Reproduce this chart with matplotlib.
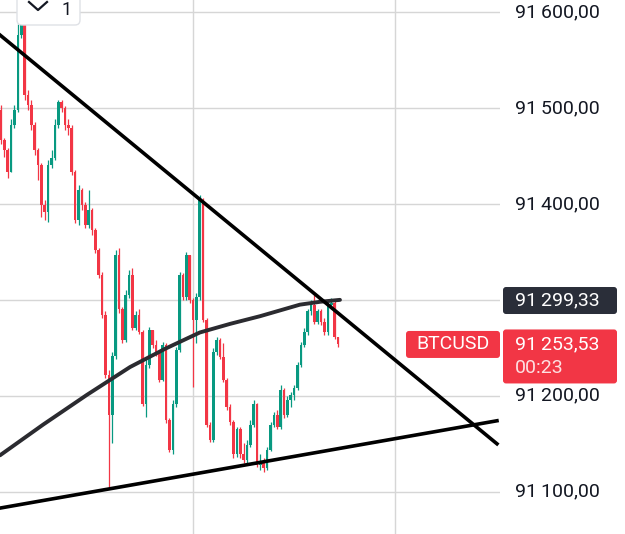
import numpy as np
import matplotlib
matplotlib.use('Agg')
import matplotlib.pyplot as plt
from matplotlib.patches import FancyBboxPatch

plt.rcParams['font.family'] = ['Roboto', 'DejaVu Sans']

# BTCUSD candles (open = previous close)
first_open = 91498
close = [91467, 91456, 91433, 91482, 91498, 91576, 91592, 91514, 91503, 91482,
         91456, 91441, 91399, 91392, 91441, 91448, 91482, 91506, 91500, 91482,
         91479, 91433, 91383, 91415, 91399, 91378, 91394, 91373, 91352, 91326,
         91284, 91222, 91180, 91241, 91347, 91290, 91258, 91305, 91326, 91271,
         91284, 91267, 91191, 91232, 91269, 91253, 91245, 91217, 91253, 91175,
         91144, 91191, 91248, 91326, 91303, 91347, 91300, 91279, 91303, 91404,
         91279, 91170, 91154, 91246, 91258, 91240, 91217, 91188, 91173, 91139,
         91165, 91139, 91133, 91149, 91170, 91191, 91128, 91131, 91125, 91144,
         91170, 91180, 91167, 91206, 91180, 91196, 91201, 91208, 91232, 91253,
         91267, 91288, 91295, 91277, 91288, 91277, 91266, 91295, 91297, 91261,
         91253.53]
high = [91503, 91469, 91458, 91488, 91503, 91587, 91618, 91597, 91519, 91508,
        91485, 91458, 91443, 91404, 91446, 91456, 91488, 91508, 91508, 91502,
        91488, 91482, 91435, 91420, 91417, 91402, 91415, 91396, 91375, 91354,
        91329, 91288, 91227, 91246, 91352, 91354, 91293, 91310, 91331, 91333,
        91288, 91290, 91269, 91238, 91272, 91269, 91258, 91248, 91256, 91255,
        91177, 91196, 91251, 91329, 91328, 91350, 91347, 91302, 91307, 91409,
        91406, 91281, 91173, 91250, 91261, 91260, 91255, 91219, 91191, 91175,
        91168, 91167, 91151, 91154, 91175, 91196, 91193, 91139, 91135, 91147,
        91173, 91183, 91185, 91211, 91208, 91200, 91204, 91211, 91235, 91256,
        91271, 91290, 91300, 91305, 91290, 91290, 91281, 91298, 91302, 91300,
        91261]
low = [91462, 91449, 91427, 91433, 91479, 91496, 91573, 91508, 91498, 91477,
       91451, 91425, 91386, 91383, 91381, 91437, 91446, 91479, 91496, 91477,
       91472, 91430, 91380, 91378, 91394, 91375, 91375, 91368, 91349, 91323,
       91281, 91219, 91104, 91151, 91238, 91286, 91255, 91256, 91302, 91269,
       91269, 91264, 91189, 91178, 91229, 91250, 91242, 91214, 91215, 91172,
       91141, 91139, 91188, 91246, 91300, 91300, 91297, 91209, 91255, 91300,
       91277, 91167, 91152, 91152, 91243, 91238, 91214, 91185, 91170, 91135,
       91136, 91135, 91130, 91130, 91147, 91167, 91126, 91123, 91121, 91123,
       91142, 91167, 91165, 91165, 91177, 91178, 91188, 91196, 91206, 91230,
       91251, 91263, 91284, 91275, 91275, 91274, 91263, 91263, 91292, 91259,
       91251]

last_price = 91253.53
mark_price = 91299.33
timer = '00:23'
symbol = 'BTCUSD'
price_ticks = [91600, 91500, 91400, 91300, 91200, 91100]
grid_idx = [57, 117]

# drawings on the chart (candle index, price)
upper_x = [-0.3, 147.2]
upper_y = [91576, 91150]
lower_x = [-0.3, 147.2]
lower_y = [91083, 91174]
arc_x = [-0.3, 12.5, 25.5, 38.3, 48.7, 59.0, 68.0, 76.9, 88.7, 94.7, 100.6]
arc_y = [91138, 91170, 91201, 91230, 91249, 91266, 91275, 91283, 91295, 91298, 91300]

GREEN = '#089981'
RED = '#f23645'
TXT = '#131722'


def fmt(v):
    s = '{:,.2f}'.format(v)
    return s.replace(',', '\u2009').replace('.', ',')


c = np.array(close, dtype=float)
o = np.concatenate(([first_open], c[:-1]))
h = np.array(high, dtype=float)
l = np.array(low, dtype=float)
idx = np.arange(len(c))
up = c >= o
cols = np.where(up, GREEN, RED)

fig = plt.figure(figsize=(6.25, 5.34), dpi=100)
ax = fig.add_axes([0, 0, 500 / 625, 1])
ax.set_xlim(-0.3, 148.1)
ax.set_ylim(91056, 91612.5)
ax.axis('off')

for p in price_ticks:
    ax.axhline(p, color='#d6d6d6', lw=1, zorder=0)
for g in grid_idx:
    ax.axvline(g, color='#d6d6d6', lw=1, zorder=0)

ax.vlines(idx, l, h, colors=cols, lw=0.9, zorder=2)
body = np.maximum(np.abs(c - o), 1.0)
ax.bar(idx, body, bottom=np.minimum(o, c), width=0.78, color=cols, zorder=3)

ax.plot(arc_x, arc_y, color='#2b2b30', lw=2.8, solid_capstyle='round',
        solid_joinstyle='round', zorder=4)
ax.plot(upper_x, upper_y, color='black', lw=2.6, zorder=4)
ax.plot(lower_x, lower_y, color='black', lw=2.6, zorder=4)

# overlay in pixel units for the price scale labels
ov = fig.add_axes([0, 0, 1, 1], zorder=5)
ov.set_xlim(0, 625)
ov.set_ylim(0, 534)
ov.axis('off')
ov.patch.set_alpha(0)


def py(price):
    return ax.transData.transform((0, price))[1]


for p in price_ticks:
    ov.text(515, py(p), fmt(p), ha='left', va='center', fontsize=14, color=TXT)

ym = py(mark_price)
ov.add_patch(FancyBboxPatch((503, ym - 13.5), 114, 27,
                            boxstyle='round,pad=0,rounding_size=3',
                            fc='#2a2e39', ec='none', zorder=6))
ov.text(515, ym, fmt(mark_price), ha='left', va='center', fontsize=14,
        color='white', zorder=7)

yl = py(last_price)
ov.add_patch(FancyBboxPatch((503, yl - 39), 114, 54,
                            boxstyle='round,pad=0,rounding_size=3',
                            fc=RED, ec='none', zorder=6))
ov.text(515, yl, fmt(last_price), ha='left', va='center', fontsize=14,
        color='white', zorder=7)
ov.text(515, yl - 24, timer, ha='left', va='center', fontsize=14,
        color='#fde0e2', zorder=7)
ov.add_patch(FancyBboxPatch((406, yl - 13.5), 94, 27,
                            boxstyle='round,pad=0,rounding_size=3',
                            fc=RED, ec='none', zorder=6))
ov.text(453, yl, symbol, ha='center', va='center', fontsize=14,
        color='white', zorder=7)

# collapsed indicator button at the top left
ov.add_patch(FancyBboxPatch((17, 509), 63, 40,
                            boxstyle='round,pad=0,rounding_size=5',
                            fc='white', ec='#dfe1e6', lw=1, zorder=6))
ov.plot([29, 38, 47], [532, 524, 532], color=TXT, lw=1.6, zorder=7)
ov.text(67, 524, '1', ha='center', va='center', fontsize=13, color=TXT, zorder=7)

fig.savefig('out.png', dpi=100, facecolor='white')
